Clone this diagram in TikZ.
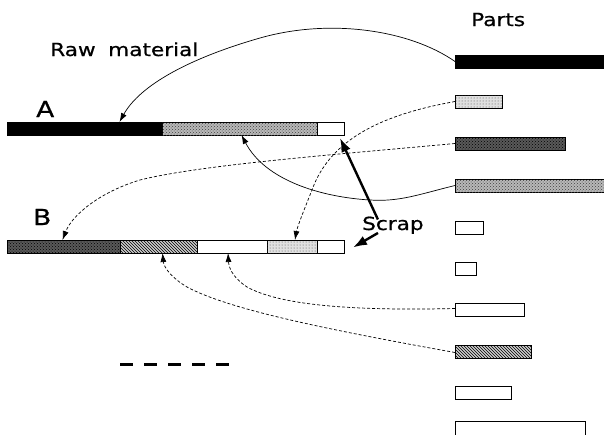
\documentclass[tikz,border=0pt]{standalone}
\usepackage{fontspec}
\newfontfamily\lblfont[FakeStretch=1.2,FakeBold=0.8]{DejaVu Sans}
\usetikzlibrary{patterns,arrows.meta,calc}

\begin{document}
\begin{tikzpicture}[x=1pt,y=-1pt,
  seg/.style={draw=black, line width=0.8pt, inner sep=0pt, outer sep=0pt,
              minimum height=13pt, anchor=north west},
  blackfill/.style={fill=black},
  darkfill/.style={fill=black!65, postaction={pattern=crosshatch dots}},
  midfill/.style={fill=black!28, postaction={pattern=crosshatch dots, pattern color=black!75}},
  lightfill/.style={fill=black!12, postaction={pattern=dots, pattern color=black!70}},
  hatchfill/.style={fill=black!20, path picture={
      \foreach \i in {-16,-13,...,80}
        \draw[line width=0.6pt, black]
          ([xshift=\i pt]path picture bounding box.north west) -- ++(16pt,-16pt);}},
  lbl/.style={font=\lblfont\fontsize{18}{20}\selectfont, inner sep=0pt, anchor=base west},
  biglbl/.style={lbl, font=\lblfont\fontsize{22}{24}\selectfont},
  link/.style={line width=0.7pt, -{Latex[length=9pt,width=6pt]}},
  dlink/.style={link, dash pattern=on 3pt off 2pt},
  bold/.style={line width=2.4pt, -{Latex[length=14pt,width=10pt]}}
]
\useasboundingbox (0,0) rectangle (604,434);
\clip (0,0) rectangle (604,434);

% cutting plan A
\node[seg, blackfill, minimum width=155pt] (a1) at (7,122) {};
\node[seg, midfill,   minimum width=155pt] (a2) at (162,122) {};
\node[seg,            minimum width=27pt]  (a3) at (317,122) {};

% cutting plan B
\node[seg, darkfill,  minimum width=113pt] (b1) at (7,240) {};
\node[seg, hatchfill, minimum width=77pt]  (b2) at (120,240) {};
\node[seg,            minimum width=70pt]  (b3) at (197,240) {};
\node[seg, lightfill, minimum width=50pt]  (b4) at (267,240) {};
\node[seg,            minimum width=27pt]  (b5) at (317,240) {};

% parts list
\node[seg, blackfill, minimum width=152pt] (p1) at (455,55) {};
\node[seg, lightfill, minimum width=47pt]  (p2) at (455,95) {};
\node[seg, darkfill,  minimum width=110pt] (p3) at (455,137) {};
\node[seg, midfill,   minimum width=152pt] (p4) at (455,179) {};
\node[seg,            minimum width=28pt]  (p5) at (455,221) {};
\node[seg,            minimum width=21pt]  (p6) at (455,262) {};
\node[seg,            minimum width=69pt]  (p7) at (455,303) {};
\node[seg, hatchfill, minimum width=76pt]  (p8) at (455,345) {};
\node[seg,            minimum width=56pt]  (p9) at (455,386) {};
\node[seg, minimum width=130pt, minimum height=20pt] (p10) at (455,421) {};

% labels
\node[lbl] (parts) at (471,26) {Parts};
\node[lbl] (raw)   at (50,56)  {Raw\hspace{0.7em}material};
\node[biglbl] (la) at (36,117) {A};
\node[biglbl] (lb) at (33,225) {B};
\node[lbl] (scrap) at (362,230) {Scrap};

% more plans to follow
\draw[line width=3pt, dash pattern=on 13pt off 11pt] (120,364) -- (233,364);

% part assignments
\draw[link] (p1.west) .. controls (410,30) and (330,18) .. (260,38)
            .. controls (190,58) and (140,85) .. ([xshift=35pt]a1.north);
\draw[link] (p4.west) .. controls (420,194) and (400,202) .. (370,200)
            .. controls (320,197) and (265,180) .. ([xshift=2pt]a2.south);
\draw[dlink] (p3.west) .. controls (330,155) and (200,165) .. (140,180)
             .. controls (100,192) and (72,215) .. ([xshift=-1pt]b1.north);
\draw[dlink] (p2.west) .. controls (380,115) and (330,140) .. (312,190)
             .. controls (302,215) and (297,228) .. ([xshift=3pt]b4.north);
\draw[dlink] ([yshift=1pt]p7.west) .. controls (350,311) and (280,305) .. (247,287)
             .. controls (235,279) and (229,270) .. ([xshift=-4pt]b3.south);
\draw[dlink] ([yshift=-1pt]p8.west) .. controls (330,330) and (230,310) .. (187,287)
             .. controls (172,278) and (164,268) .. ([xshift=4pt]b2.south);

% scrap pointers
\draw[bold] ([xshift=-15pt,yshift=-3pt]scrap.north) -- ([xshift=-4pt,yshift=-3pt]a3.south east);
\draw[bold] ([xshift=16pt,yshift=1pt]scrap.south west) -- ([xshift=9pt,yshift=-1pt]b5.east);
\end{tikzpicture}
\end{document}
